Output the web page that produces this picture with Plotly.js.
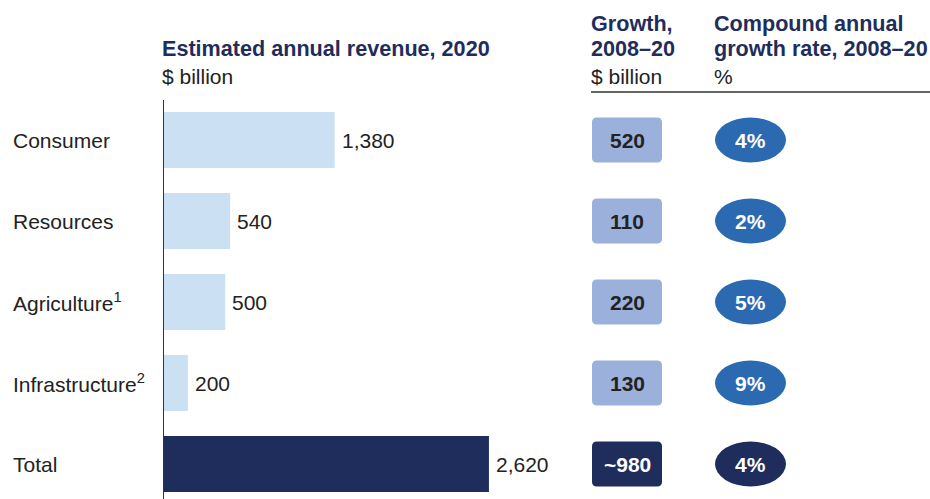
<!DOCTYPE html>
<html>
<head>
<meta charset="utf-8">
<script src="https://cdn.plot.ly/plotly-3.0.1.min.js"></script>
<style>html,body{margin:0;padding:0;background:#fff;}#chart{width:930px;height:499px;}</style>
</head>
<body>
<div id="chart"></div>
<script>
// ---- data ----
const categories = ['Consumer', 'Resources', 'Agriculture', 'Infrastructure', 'Total'];
const footnotes = ['', '', '1', '2', ''];
const revenue = [1380, 540, 500, 200, 2620];
const revenueLabels = ['1,380', '540', '500', '200', '2,620'];
const growth = ['520', '110', '220', '130', '~980'];
const cagr = ['4%', '2%', '5%', '9%', '4%'];

// ---- styles ----
const FONT = 'Liberation Sans, Arial, Helvetica, sans-serif';
const NAVY = '#1f2d5c';
const LIGHT = '#cce0f4';
const BOXC = '#9bb0da';
const ELLC = '#2b69b1';
const TXT = '#222222';
const W = 930, H = 499;
const isTotal = categories.map(c => c === 'Total');

const barTrace = {
  type: 'bar', orientation: 'h',
  y: categories, x: revenue,
  width: 0.69,
  marker: { color: isTotal.map(t => t ? NAVY : LIGHT) },
  hoverinfo: 'none'
};

const annotations = [];
const shapes = [];

// category labels
categories.forEach((c, i) => {
  annotations.push({
    xref: 'paper', yref: 'y', x: 11 / W, y: c, xanchor: 'left', yanchor: 'middle',
    text: c + (footnotes[i] ? '<sup>' + footnotes[i] + '</sup>' : ''),
    showarrow: false, font: { family: FONT, size: 21, color: TXT }
  });
  // value labels
  annotations.push({
    xref: 'x', yref: 'y', x: revenue[i], y: c, xanchor: 'left', yanchor: 'middle', xshift: 5,
    text: revenueLabels[i], showarrow: false, font: { family: FONT, size: 21, color: TXT }
  });
  // growth boxes
  const bx0 = 592 / W, bx1 = 662 / W, hh = 0.278, rx = 5 / W, ry = 5 / 81;
  const y0 = i - hh, y1 = i + hh;
  shapes.push({
    type: 'path', xref: 'paper', yref: 'y', layer: 'below',
    path: `M ${bx0 + rx},${y0} L ${bx1 - rx},${y0} Q ${bx1},${y0} ${bx1},${y0 + ry} L ${bx1},${y1 - ry} Q ${bx1},${y1} ${bx1 - rx},${y1} L ${bx0 + rx},${y1} Q ${bx0},${y1} ${bx0},${y1 - ry} L ${bx0},${y0 + ry} Q ${bx0},${y0} ${bx0 + rx},${y0} Z`,
    fillcolor: isTotal[i] ? NAVY : BOXC, line: { width: 0 }
  });
  annotations.push({
    xref: 'paper', yref: 'y', x: 627 / W, y: c, xanchor: 'center', yanchor: 'middle',
    text: '<b>' + growth[i] + '</b>', showarrow: false,
    font: { family: FONT, size: 21, color: isTotal[i] ? '#ffffff' : TXT }
  });
  // CAGR ellipses
  shapes.push({
    type: 'circle', xref: 'paper', yref: 'y', layer: 'below',
    x0: 715 / W, x1: 786 / W, y0: y0, y1: y1,
    fillcolor: isTotal[i] ? NAVY : ELLC, line: { width: 0 }
  });
  annotations.push({
    xref: 'paper', yref: 'y', x: 750.5 / W, y: c, xanchor: 'center', yanchor: 'middle',
    text: '<b>' + cagr[i] + '</b>', showarrow: false,
    font: { family: FONT, size: 21, color: '#ffffff' }
  });
});

// headers
function hdr(text, px, py, bold) {
  annotations.push({
    xref: 'paper', yref: 'paper', x: px / W, y: 1 - py / H, xanchor: 'left', yanchor: 'middle',
    text: bold ? '<b>' + text + '</b>' : text, showarrow: false,
    font: { family: FONT, size: bold ? 21.6 : 21, color: bold ? NAVY : TXT }
  });
}
hdr('Estimated annual revenue, 2020', 160, 49, true);
hdr('$ billion', 160, 76, false);
hdr('Growth,', 589, 23, true);
hdr('2008–20', 589, 49, true);
hdr('$ billion', 589, 76, false);
hdr('Compound annual', 712, 23, true);
hdr('growth rate, 2008–20', 712, 49, true);
hdr('%', 712, 76, false);

// axis line & header rule
shapes.push({ type: 'line', xref: 'x', yref: 'paper', x0: 0, x1: 0, y0: 0, y1: 1 - 100 / H,
  line: { color: '#333333', width: 2 } });
shapes.push({ type: 'line', xref: 'paper', yref: 'paper', x0: 591 / W, x1: 1, y0: 1 - 92 / H, y1: 1 - 92 / H,
  line: { color: '#333333', width: 1.5 } });

const layout = {
  width: W, height: H,
  margin: { l: 0, r: 0, t: 0, b: 0, pad: 0 },
  paper_bgcolor: '#ffffff', plot_bgcolor: '#ffffff',
  showlegend: false,
  xaxis: { domain: [163 / W, 1], range: [0, (W - 163) / 0.1244], visible: false, fixedrange: true },
  yaxis: { type: 'category', categoryorder: 'array', categoryarray: categories,
           range: [4.4321, -1.7284], visible: false, fixedrange: true },
  annotations: annotations,
  shapes: shapes
};

Plotly.newPlot('chart', [barTrace], layout, { displayModeBar: false, staticPlot: true });
</script>
</body>
</html>
